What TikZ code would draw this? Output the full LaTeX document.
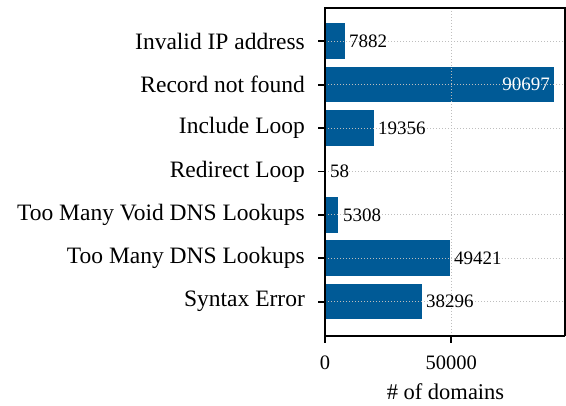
\documentclass[tikz,border=0pt]{standalone}
\usepackage{fontspec}
\setmainfont{Liberation Serif}

\definecolor{barblue}{RGB}{0,90,150}
\definecolor{gridgray}{RGB}{190,190,190}

\tikzset{every picture/.style={line width=0.75pt}}
\tikzset{
  bar/.style={fill=barblue, draw=none},
  catlabel/.style={anchor=east, inner sep=0.75pt, font=\fontsize{23.5}{28}\selectfont},
  vallabel/.style={anchor=west, inner sep=0.75pt, font=\fontsize{19}{23}\selectfont},
  ticklabel/.style={anchor=north, inner sep=0.75pt, font=\fontsize{20.5}{25}\selectfont},
  gridline/.style={gridgray, dotted, line width=1pt},
  spine/.style={black, line width=1.8pt},
  tickmark/.style={black, line width=1.8pt}
}

\begin{document}
\begin{tikzpicture}[x=1pt,y=1pt,yscale=-1,xscale=1]
\useasboundingbox (0,0) rectangle (566,406);

%Bars
\fill [bar] (325,23.5) rectangle (344.9,59.1) coordinate (b1);
\fill [bar] (325,66.9) rectangle (554,102.5) coordinate (b2);
\fill [bar] (325,110.3) rectangle (373.9,145.9) coordinate (b3);
\fill [bar] (325,153.7) rectangle (325.15,189.3) coordinate (b4);
\fill [bar] (325,197.1) rectangle (338.4,232.7) coordinate (b5);
\fill [bar] (325,240.5) rectangle (449.8,276.1) coordinate (b6);
\fill [bar] (325,283.9) rectangle (421.7,319.5) coordinate (b7);

%Grid
\coordinate (gtop) at (451.2,8);
\coordinate (gbot) at (451.2,336);
\draw [gridline] (gtop) -- (gbot);
\draw [gridline] (325,41.3) -- (565,41.3);
\draw [gridline] (325,84.7) -- (565,84.7);
\draw [gridline] (325,128.1) -- (565,128.1);
\draw [gridline] (325,171.5) -- (565,171.5);
\draw [gridline] (325,214.9) -- (565,214.9);
\draw [gridline] (325,258.3) -- (565,258.3);
\draw [gridline] (325,301.7) -- (565,301.7);

%Axes
\coordinate (o) at (325,336);
\coordinate (tl) at (325,8);
\coordinate (tr) at (565,8);
\coordinate (br) at (565,336);
\draw [spine, line join=miter] (br) -- (o) -- (tl) -- (tr) -- (br);

%Ticks
\draw [tickmark] (318,41.3) -- (325,41.3);
\draw [tickmark] (318,84.7) -- (325,84.7);
\draw [tickmark] (318,128.1) -- (325,128.1);
\draw [tickmark] (318,171.5) -- (325,171.5);
\draw [tickmark] (318,214.9) -- (325,214.9);
\draw [tickmark] (318,258.3) -- (325,258.3);
\draw [tickmark] (318,301.7) -- (325,301.7);
\draw [tickmark] (325,336) -- (325,343);
\draw [tickmark] (451.2,336) -- (451.2,343);

% Text Node
\node [catlabel] (c1) at (306,41.3) {Invalid IP address};
% Text Node
\node [catlabel] (c2) at (306,84.7) {Record not found};
% Text Node
\node [catlabel] (c3) at (306,128.1) {Include Loop};
% Text Node
\node [catlabel] (c4) at (306,171.5) {Redirect Loop};
% Text Node
\node [catlabel] (c5) at (306,214.9) {Too Many Void DNS Lookups};
% Text Node
\node [catlabel] (c6) at (306,258.3) {Too Many DNS Lookups};
% Text Node
\node [catlabel] (c7) at (306,301.7) {Syntax Error};

% Text Node
\node [vallabel] (v1) at (348,41.3) {7882};
% Text Node
\node [vallabel, anchor=east, white] (v2) at (551,84.7) {90697};
% Text Node
\node [vallabel] (v3) at (377,128.1) {19356};
% Text Node
\node [vallabel] (v4) at (329,171.5) {58};
% Text Node
\node [vallabel] (v5) at (342,214.9) {5308};
% Text Node
\node [vallabel] (v6) at (453,258.3) {49421};
% Text Node
\node [vallabel] (v7) at (425,301.7) {38296};

% Text Node
\node [ticklabel] (x0) at (325,355) {0};
% Text Node
\node [ticklabel] (x1) at (451.2,355) {50000};
% Text Node
\node [ticklabel, anchor=center, font=\fontsize{22.5}{27}\selectfont] (xl) at (445.5,392) {\# of domains};

\end{tikzpicture}
\end{document}
